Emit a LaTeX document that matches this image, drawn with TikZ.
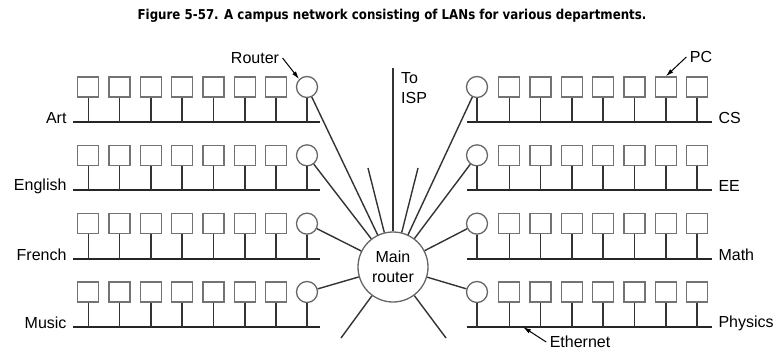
\documentclass[tikz,border=0pt]{standalone}
\usepackage{fontspec}
\setmainfont{Liberation Sans}
\newfontfamily\titlefont[FakeStretch=0.87]{DejaVu Sans}
\usetikzlibrary{arrows.meta,calc}

\begin{document}
\begin{tikzpicture}[x=1pt,y=-1pt,>={Latex[length=8pt,width=4.5pt]},
  font=\fontsize{16}{20}\selectfont,
  bus/.style={line width=2pt,black!85},
  drop/.style={line width=1.6pt,black!80},
  pc/.style={draw=black!55,line width=1.3pt,minimum width=21pt,minimum height=20pt,inner sep=0pt},
  rtr/.style={draw=black!60,line width=1.3pt,circle,minimum size=21pt,inner sep=0pt},
  link/.style={line width=1.4pt,black!80},
  ptr/.style={->,line width=1pt}]
\useasboundingbox (0,0) rectangle (774,353);
\node[font=\titlefont\bfseries\fontsize{13.6}{16}\selectfont] (title) at (392,16) {Figure 5-57. A campus network consisting of LANs for various departments.};
\node[rtr,minimum size=70pt,align=center] (main) at (393,267) {Main\\router};
% left departments
\foreach \dept [count=\i from 0] in {Art,English,French,Music}{
  \pgfmathsetmacro\by{122+68.33*\i}
  \coordinate (L\i-a) at (73,\by);
  \coordinate (L\i-b) at (320,\by);
  \draw[bus] (L\i-a) -- (L\i-b);
  \node[anchor=east] (L\i-name) at (70,\by-4) {\dept};
  \foreach \k in {0,...,6}{
    \node[pc] (L\i-pc\k) at (88.3+31.3*\k,\by-35) {};
    \draw[drop] (L\i-pc\k) -- (L\i-pc\k |- L\i-a);
  }
  \node[rtr] (L\i-r) at (307,\by-35) {};
  \draw[drop] (L\i-r) -- (L\i-r |- L\i-a);
  \draw[link] (L\i-r) -- (main);
}
% right departments
\foreach \dept [count=\i from 0] in {CS,EE,Math,Physics}{
  \pgfmathsetmacro\by{122+68.33*\i}
  \coordinate (R\i-a) at (467,\by);
  \coordinate (R\i-b) at (712,\by);
  \draw[bus] (R\i-a) -- (R\i-b);
  \node[anchor=west] (R\i-name) at (715,\by-4) {\dept};
  \foreach \k in {0,...,6}{
    \node[pc] (R\i-pc\k) at (509.3+31.3*\k,\by-35) {};
    \draw[drop] (R\i-pc\k) -- (R\i-pc\k |- R\i-a);
  }
  \node[rtr] (R\i-r) at (477,\by-35) {};
  \draw[drop] (R\i-r) -- (R\i-r |- R\i-a);
  \draw[link] (R\i-r) -- (main);
}
% uplink and spare ports
\coordinate (isp) at (393,68);
\draw[link] (main) -- (isp);
\node[anchor=north west,align=left,inner sep=0pt] (isplbl) at (401,72.5) {To\\ISP};
\coordinate (s1) at (368,168);
\coordinate (s2) at (418,168);
\coordinate (s3) at (341,338);
\coordinate (s4) at (446,338);
\foreach \s in {s1,s2,s3,s4} \draw[link] (main) -- (\s);
% callouts
\node (rlbl) at (255,58) {Router};
\draw[ptr] (rlbl.east) -- (L0-r.135);
\node (pclbl) at (701,57) {PC};
\draw[ptr] (pclbl.west) -- (R0-pc5.north);
\node (ethlbl) at (580,342) {Ethernet};
\coordinate (etap) at (523,327);
\draw[ptr] (ethlbl.west) -- (etap);
\end{tikzpicture}
\end{document}
